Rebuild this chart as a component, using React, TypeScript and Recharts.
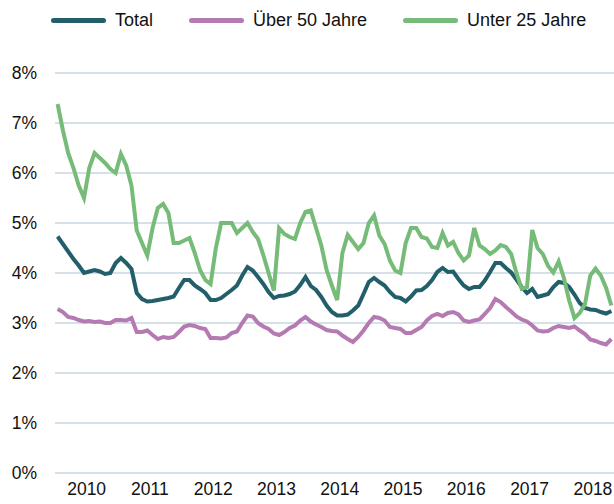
import { CartesianGrid, Legend, Line, LineChart, XAxis, YAxis } from "recharts"

// monthly rates in %, Jan 2010 .. Oct 2018
const total = [
  4.73, 4.58, 4.43, 4.28, 4.15, 4.0, 4.03, 4.06, 4.03, 3.98, 4.0, 4.2,
  4.3, 4.2, 4.08, 3.6, 3.48, 3.43, 3.44, 3.46, 3.48, 3.5, 3.53, 3.7,
  3.86, 3.86, 3.75, 3.68, 3.6, 3.46, 3.46, 3.5, 3.58, 3.66, 3.75, 3.95,
  4.12, 4.05, 3.92, 3.78, 3.62, 3.5, 3.54, 3.55, 3.58, 3.63, 3.76, 3.92,
  3.74, 3.66, 3.52, 3.35, 3.22, 3.15, 3.15, 3.17, 3.25, 3.35, 3.58, 3.82,
  3.9, 3.82, 3.75, 3.62, 3.52, 3.5, 3.43, 3.53, 3.65, 3.66, 3.74, 3.86,
  4.02, 4.1, 4.02, 4.03, 3.88, 3.75, 3.68, 3.72, 3.72, 3.85, 4.02, 4.2,
  4.2, 4.1, 4.01, 3.87, 3.72, 3.6, 3.68, 3.52, 3.55, 3.58, 3.72, 3.82,
  3.8, 3.72, 3.57, 3.4, 3.3, 3.27, 3.26, 3.22, 3.19, 3.24,
]

const over50 = [
  3.28, 3.22, 3.12, 3.1, 3.06, 3.03, 3.04, 3.02, 3.03, 3.0, 3.0, 3.06,
  3.06, 3.05, 3.1, 2.82, 2.82, 2.85, 2.76, 2.68, 2.72, 2.7, 2.72, 2.82,
  2.93, 2.96, 2.94, 2.9, 2.88, 2.7, 2.7, 2.69, 2.71, 2.8, 2.83, 3.0,
  3.15, 3.13, 3.0, 2.93, 2.88, 2.79, 2.76, 2.82, 2.9, 2.95, 3.05, 3.12,
  3.03, 2.97, 2.92, 2.86, 2.84, 2.83, 2.75, 2.68, 2.62, 2.72, 2.85, 3.0,
  3.12, 3.1, 3.05, 2.92, 2.9, 2.88, 2.8, 2.8, 2.86, 2.92, 3.05, 3.14,
  3.18, 3.14, 3.2, 3.22, 3.17, 3.05, 3.02, 3.05, 3.07, 3.18, 3.3, 3.48,
  3.42, 3.32, 3.23, 3.13, 3.07, 3.03, 2.95, 2.85, 2.83, 2.84, 2.9, 2.94,
  2.92, 2.9, 2.93, 2.85, 2.78, 2.67, 2.64, 2.6, 2.57, 2.68,
]

const under25 = [
  7.38, 6.85, 6.4, 6.1, 5.75, 5.5, 6.1, 6.4, 6.3, 6.2, 6.08, 6.0,
  6.38, 6.15, 5.75, 4.85, 4.6, 4.35, 4.9, 5.3, 5.38, 5.2, 4.6, 4.6,
  4.65, 4.7, 4.4, 4.06, 3.86, 3.78, 4.5, 5.0, 5.0, 5.0, 4.8, 4.9,
  5.0, 4.82, 4.68, 4.36, 4.0, 3.65, 4.9, 4.78, 4.72, 4.68, 5.0, 5.22,
  5.25, 4.9, 4.55, 4.06, 3.75, 3.46, 4.4, 4.76, 4.62, 4.48, 4.6, 5.0,
  5.15, 4.75, 4.58, 4.25, 4.05, 4.0, 4.6, 4.9, 4.9, 4.72, 4.69, 4.52,
  4.5, 4.8, 4.55, 4.62, 4.4, 4.25, 4.35, 4.9, 4.55, 4.48, 4.38, 4.45,
  4.56, 4.52, 4.38, 4.0, 3.68, 3.72, 4.86, 4.5, 4.38, 4.14, 4.01, 4.23,
  3.9, 3.45, 3.1, 3.2, 3.38, 3.95, 4.09, 3.95, 3.7, 3.35,
]

const years = ["2010", "2011", "2012", "2013", "2014", "2015", "2016", "2017", "2018"]
const yTicks = [0, 1, 2, 3, 4, 5, 6, 7, 8]

const series = [
  { key: "total", name: "Total", color: "#225f6a" },
  { key: "over50", name: "Über 50 Jahre", color: "#b67ab3" },
  { key: "under25", name: "Unter 25 Jahre", color: "#76bb78" },
]

const data = total.map((t, i) => ({ i, total: t, over50: over50[i], under25: under25[i] }))
// year label in the middle of each year's months
const xTicks = years.map((_, k) => k * 12 + 5.5)

const font = "'Liberation Sans', Arial, sans-serif"

function LegendRow() {
  return (
    <div
      style={{
        display: "flex",
        alignItems: "center",
        paddingLeft: 51,
        width: 614,
        height: 40,
        whiteSpace: "nowrap",
        fontFamily: font,
        fontSize: 18,
        color: "#111",
      }}
    >
      {series.map((s) => (
        <div key={s.key} style={{ display: "flex", alignItems: "center", flexShrink: 0, marginRight: 36 }}>
          <div style={{ width: 55, height: 5, borderRadius: 3, background: s.color, marginRight: 9 }} />
          <span>{s.name}</span>
        </div>
      ))}
    </div>
  )
}

export default function App() {
  return (
    <div style={{ width: 614, height: 504 }}>
      <style>{`body{margin:0}`}</style>
      <LineChart width={614} height={504} data={data} margin={{ top: 33, right: 0, left: 0, bottom: 0 }}>
        <CartesianGrid vertical={false} stroke="#c8d7df" strokeWidth={1.5} />
        <XAxis
          type="number"
          dataKey="i"
          domain={[-0.5, 105.5]}
          ticks={xTicks}
          tickFormatter={(v) => years[Math.round((v - 5.5) / 12)]}
          axisLine={false}
          tickLine={false}
          height={31}
          tickMargin={4}
          tick={{ fill: "#111", fontSize: 17.5, fontFamily: font }}
        />
        <YAxis
          domain={[0, 8]}
          ticks={yTicks}
          tickFormatter={(v) => `${v}%`}
          axisLine={false}
          tickLine={false}
          width={55}
          tickMargin={12}
          tick={{ fill: "#111", fontSize: 17.5, fontFamily: font }}
        />
        <Legend
          verticalAlign="top"
          height={40}
          width={614}
          content={() => <LegendRow />}
          wrapperStyle={{ top: 0, left: 0, width: 614 }}
        />
        {series.map((s) => (
          <Line
            key={s.key}
            type="linear"
            dataKey={s.key}
            name={s.name}
            stroke={s.color}
            strokeWidth={4}
            dot={false}
            isAnimationActive={false}
          />
        ))}
      </LineChart>
    </div>
  )
}
